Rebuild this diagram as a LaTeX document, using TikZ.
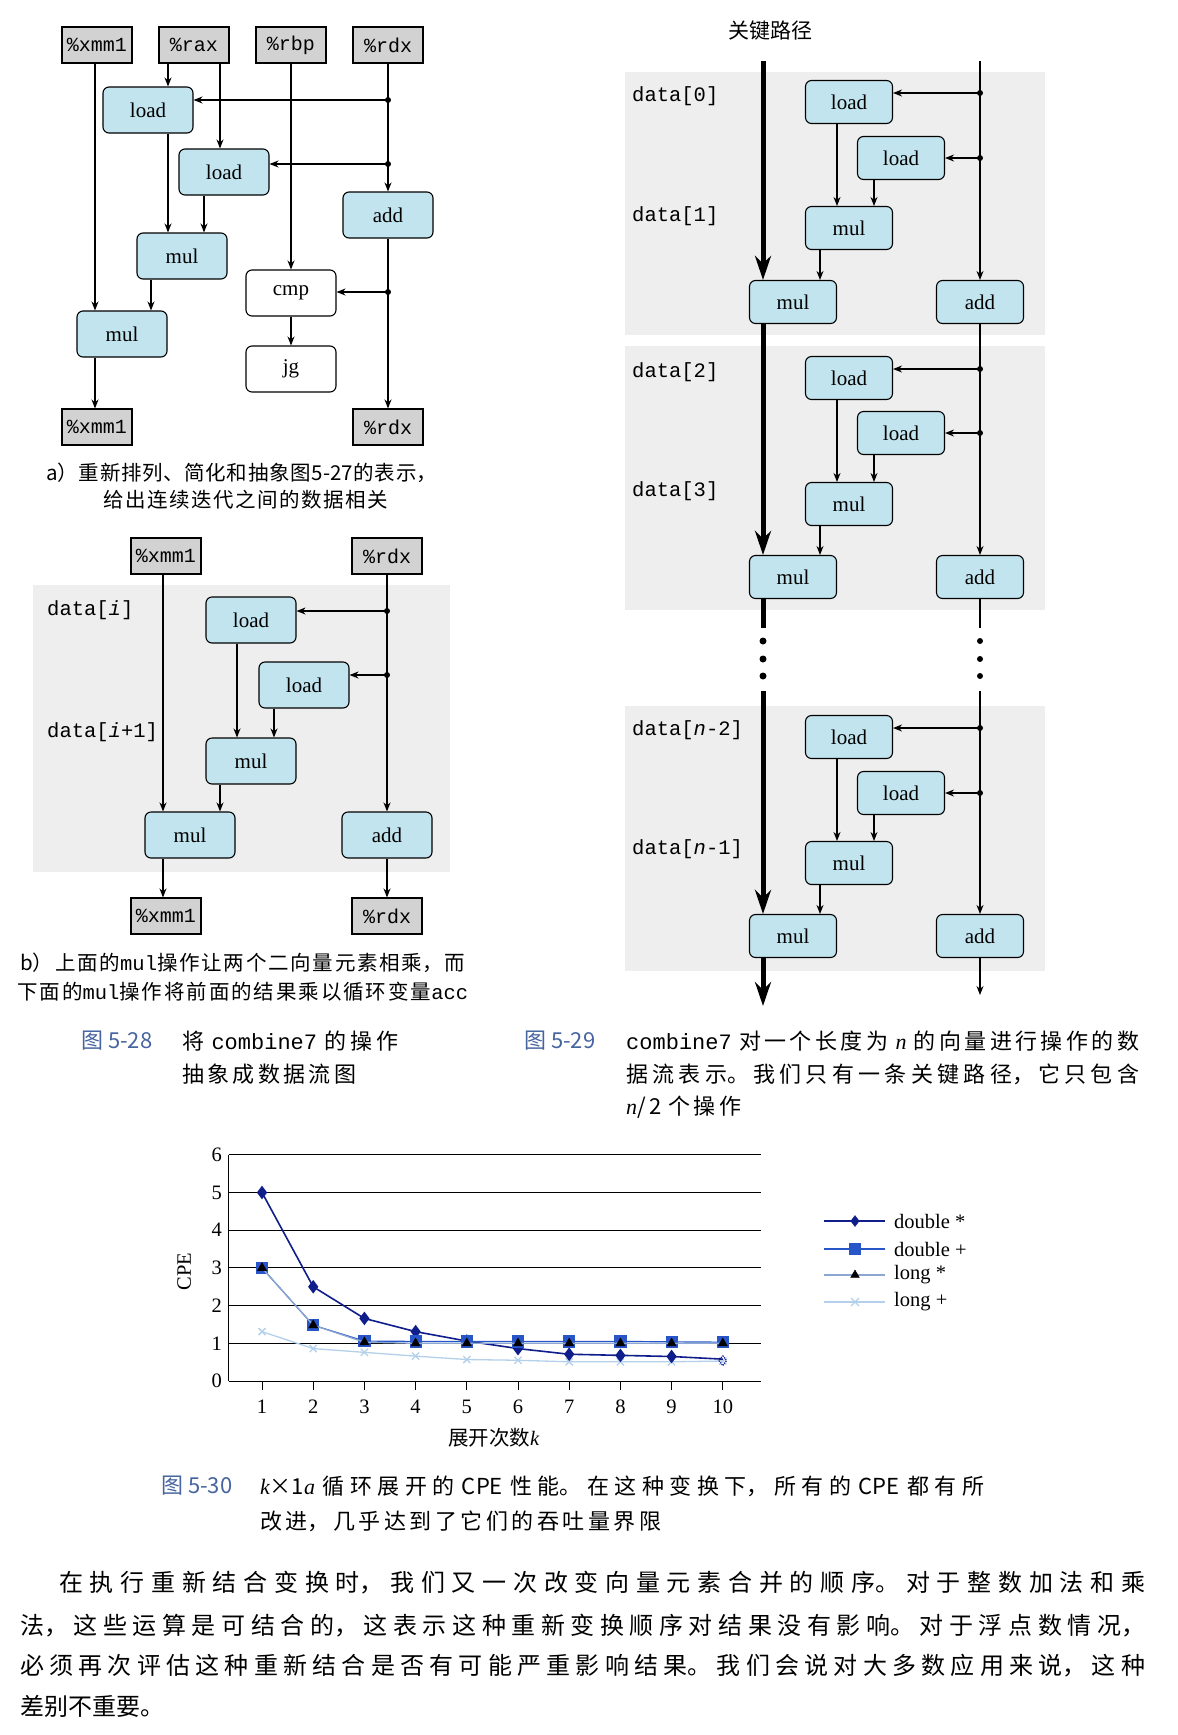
\documentclass[tikz,border=0pt]{standalone}
\usepackage{fontspec}
\setmainfont{Liberation Serif}
\setmonofont{Liberation Mono}
\newfontfamily\cjk{Noto Sans CJK SC}
\usetikzlibrary{arrows.meta,plotmarks}
\XeTeXlinebreaklocale "zh"
\XeTeXlinebreakskip=0pt plus 8pt
\definecolor{opblue}{RGB}{193,228,238}
\definecolor{reggray}{RGB}{210,210,210}
\definecolor{bggray}{RGB}{238,238,238}
\definecolor{figblue}{RGB}{70,100,160}
\definecolor{dsblue}{RGB}{16,30,140}
\definecolor{dpblue}{RGB}{40,85,200}
\definecolor{lsblue}{RGB}{140,168,210}
\definecolor{lpblue}{RGB}{180,208,234}
\newcommand\fillline[1]{\noindent\leftskip=0pt\rightskip=0pt\parfillskip=0pt\relax#1\par}
\newcommand\vn[1]{{\rmfamily\itshape #1}}
\begin{document}
\begin{tikzpicture}[x=1pt,y=-1pt,
    every node/.style={inner sep=0pt},
    reg/.style={draw,line width=1.1pt,fill=reggray,minimum width=70pt,minimum height=36pt,
      font=\ttfamily\fontsize{20}{22}\selectfont},
    op/.style={draw,line width=1.1pt,rounded corners=6pt,fill=opblue,minimum width=90pt,
      minimum height=46pt,font=\fontsize{21}{24}\selectfont},
    opc/.style={op,minimum width=87pt,minimum height=43pt},
    wop/.style={op,fill=white},
    lab/.style={anchor=west,font=\ttfamily\fontsize{20.5}{24}\selectfont},
    flow/.style={-{Stealth[length=9pt,width=7pt]},line width=1.1pt},
    crit/.style={line width=5pt,-{Stealth[length=24pt,width=16pt]}},
    cline/.style={anchor=west,text width=#1},
    subfont/.style={font=\cjk\fontsize{20.5}{24}\selectfont},
    capfont/.style={font=\cjk\fontsize{22}{26}\selectfont},
    bodyfont/.style={font=\cjk\fontsize{24}{28}\selectfont},
    numfont/.style={font=\fontsize{20.5}{24}\selectfont}]
  \useasboundingbox (0,0) rectangle (1178,1735);
  \fill[white] (0,0) rectangle (1178,1735);
  \fill[bggray] (33,585) rectangle (450,872);
  \fill[bggray] (625,72) rectangle (1045,335);
  \fill[bggray] (625,346) rectangle (1045,610);
  \fill[bggray] (625,706) rectangle (1045,971);

  \node[reg] (a-xmm) at (97,45) {\%xmm1};
  \node[reg] (a-rax) at (194,45) {\%rax};
  \node[reg] (a-rbp) at (291,45) {\%rbp};
  \node[reg] (a-rdx) at (388,45) {\%rdx};
  \node[op] (a-load1) at (148,110) {load};
  \node[op] (a-load2) at (224,172) {load};
  \node[op] (a-add) at (388,215) {add};
  \node[op] (a-mul1) at (182,256) {mul};
  \node[wop] (a-cmp) at (291,293) {cmp};
  \node[op] (a-mul2) at (122,334) {mul};
  \node[wop] (a-jg) at (291,369) {jg};
  \node[reg] (a-xmmo) at (97,427) {\%xmm1};
  \node[reg] (a-rdxo) at (388,427) {\%rdx};
  \coordinate (a-j1) at (388,100);
  \coordinate (a-j2) at (388,164);
  \coordinate (a-j3) at (388,292);
  \begin{scope}[flow]
    \draw (95,0 |- a-xmm.south) to (95,0 |- a-mul2.north);
    \draw (168,0 |- a-rax.south) to (168,0 |- a-load1.north);
    \draw (220,0 |- a-rax.south) to (220,0 |- a-load2.north);
    \draw (a-rbp.south) to (a-cmp.north);
    \draw (a-rdx.south) to (a-add.north);
    \draw (a-j1) to (a-j1 -| a-load1.east);
    \draw (a-j2) to (a-j2 -| a-load2.east);
    \draw (a-j3) to (a-j3 -| a-cmp.east);
    \draw (168,0 |- a-load1.south) to (168,0 |- a-mul1.north);
    \draw (204,0 |- a-load2.south) to (204,0 |- a-mul1.north);
    \draw (151,0 |- a-mul1.south) to (151,0 |- a-mul2.north);
    \draw (95,0 |- a-mul2.south) to (95,0 |- a-xmmo.north);
    \draw (a-cmp.south) to (a-jg.north);
    \draw (a-add.south) to (a-rdxo.north);
  \end{scope}
  \fill (a-j1) circle (3pt) (a-j2) circle (3pt) (a-j3) circle (3pt);
  \node[cline=391pt,subfont] (a-cap1) at (46,473) {\fillline{a）重新排列、简化和抽象图5-27的表示，}};
  \node[cline=285pt,subfont] (a-cap2) at (103,500) {\fillline{给出连续迭代之间的数据相关}};

  \node[reg] (b-xmm) at (166,556) {\%xmm1};
  \node[reg] (b-rdx) at (387,556) {\%rdx};
  \node[op] (b-load1) at (251,620) {load};
  \node[op] (b-load2) at (304,685) {load};
  \node[op] (b-mul1) at (251,761) {mul};
  \node[op] (b-mul2) at (190,835) {mul};
  \node[op] (b-add) at (387,835) {add};
  \node[reg] (b-xmmo) at (166,916) {\%xmm1};
  \node[reg] (b-rdxo) at (387,916) {\%rdx};
  \node[lab] (b-di) at (47,610) {data[\textit{i}]};
  \node[lab] (b-di1) at (47,732) {data[\textit{i}+1]};
  \coordinate (b-j1) at (387,611);
  \coordinate (b-j2) at (387,675);
  \begin{scope}[flow]
    \draw (163,0 |- b-xmm.south) to (163,0 |- b-mul2.north);
    \draw (b-rdx.south) to (b-add.north);
    \draw (b-j1) to (b-j1 -| b-load1.east);
    \draw (b-j2) to (b-j2 -| b-load2.east);
    \draw (237,0 |- b-load1.south) to (237,0 |- b-mul1.north);
    \draw (274,0 |- b-load2.south) to (274,0 |- b-mul1.north);
    \draw (220,0 |- b-mul1.south) to (220,0 |- b-mul2.north);
    \draw (163,0 |- b-mul2.south) to (163,0 |- b-xmmo.north);
    \draw (b-add.south) to (b-rdxo.north);
  \end{scope}
  \fill (b-j1) circle (3pt) (b-j2) circle (3pt);
  \node[cline=445pt,subfont] (b-cap1) at (20,963) {\fillline{b）上面的\texttt{mul}操作让两个二向量元素相乘，而}};
  \node[cline=451pt,subfont] (b-cap2) at (17,992) {\fillline{下面的\texttt{mul}操作将前面的结果乘以循环变量\texttt{acc}}};

  \node[font=\cjk\fontsize{21}{24}\selectfont] (c-title) at (770,31) {关键路径};
  \node[lab] (c-d0) at (632,96) {data[0]};
  \node[lab] (c-d1) at (632,216) {data[1]};
  \node[lab] (c-d2) at (632,372) {data[2]};
  \node[lab] (c-d3) at (632,491) {data[3]};
  \node[lab] (c-d4) at (632,730) {data[\textit{n}-2]};
  \node[lab] (c-d5) at (632,849) {data[\textit{n}-1]};
  \node[opc] (c-load1) at (849,102) {load};
  \node[opc] (c-loadb1) at (901,158) {load};
  \node[opc] (c-mul1) at (849,228) {mul};
  \node[opc] (c-mmul1) at (793,302) {mul};
  \node[opc] (c-add1) at (980,302) {add};
  \node[opc] (c-load2) at (849,378) {load};
  \node[opc] (c-loadb2) at (901,433) {load};
  \node[opc] (c-mul2) at (849,504) {mul};
  \node[opc] (c-mmul2) at (793,577) {mul};
  \node[opc] (c-add2) at (980,577) {add};
  \node[opc] (c-load3) at (849,737) {load};
  \node[opc] (c-loadb3) at (901,793) {load};
  \node[opc] (c-mul3) at (849,863) {mul};
  \node[opc] (c-mmul3) at (793,936) {mul};
  \node[opc] (c-add3) at (980,936) {add};
  \coordinate (c-top) at (763,61);
  \coordinate (c-rtop) at (980,61);
  \coordinate (c-brk) at (763,628);
  \coordinate (c-rbrk) at (980,628);
  \coordinate (c-res) at (763,691);
  \coordinate (c-rres) at (980,691);
  \coordinate (c-end) at (763,1006);
  \coordinate (c-rend) at (980,995);
  \coordinate (c-j1a) at (980,93);
  \coordinate (c-j1b) at (980,158);
  \coordinate (c-j2a) at (980,369);
  \coordinate (c-j2b) at (980,433);
  \coordinate (c-j3a) at (980,728);
  \coordinate (c-j3b) at (980,793);
  \draw[crit] (c-top) to (c-top |- c-mmul1.north);
  \draw[crit] (c-top |- c-mmul1.south) to (c-top |- c-mmul2.north);
  \draw[line width=5pt] (c-top |- c-mmul2.south) to (c-brk);
  \draw[crit] (c-res) to (c-res |- c-mmul3.north);
  \draw[crit] (c-top |- c-mmul3.south) to (c-end);
  \begin{scope}[flow]
    \draw (c-rtop) to (c-add1.north);
    \draw (c-add1.south) to (c-add2.north);
    \draw[-] (c-add2.south) to (c-rbrk);
    \draw (c-rres) to (c-add3.north);
    \draw (c-add3.south) to (c-rend);
    \draw (c-j1a) to (c-j1a -| c-load1.east);
    \draw (c-j1b) to (c-j1b -| c-loadb1.east);
    \draw (c-j2a) to (c-j2a -| c-load2.east);
    \draw (c-j2b) to (c-j2b -| c-loadb2.east);
    \draw (c-j3a) to (c-j3a -| c-load3.east);
    \draw (c-j3b) to (c-j3b -| c-loadb3.east);
    \draw (837,0 |- c-load1.south) to (837,0 |- c-mul1.north);
    \draw (874,0 |- c-loadb1.south) to (874,0 |- c-mul1.north);
    \draw (820,0 |- c-mul1.south) to (820,0 |- c-mmul1.north);
    \draw (837,0 |- c-load2.south) to (837,0 |- c-mul2.north);
    \draw (874,0 |- c-loadb2.south) to (874,0 |- c-mul2.north);
    \draw (820,0 |- c-mul2.south) to (820,0 |- c-mmul2.north);
    \draw (837,0 |- c-load3.south) to (837,0 |- c-mul3.north);
    \draw (874,0 |- c-loadb3.south) to (874,0 |- c-mul3.north);
    \draw (820,0 |- c-mul3.south) to (820,0 |- c-mmul3.north);
  \end{scope}
  \fill (c-j1a) circle (3pt) (c-j1b) circle (3pt) (c-j2a) circle (3pt)
    (c-j2b) circle (3pt) (c-j3a) circle (3pt) (c-j3b) circle (3pt);
  \fill (763,641) circle (3.5pt) (763,659) circle (3.5pt) (763,676) circle (3.5pt);
  \fill (980,641) circle (3pt) (980,659) circle (3pt) (980,676) circle (3pt);

  \node[anchor=west,capfont,text=figblue] (f28) at (81,1041) {图 5-28};
  \node[cline=216pt,capfont] (f28a) at (182,1041) {\fillline{将 \texttt{combine7} 的操作}};
  \node[cline=174pt,capfont] (f28b) at (182,1074) {\fillline{抽象成数据流图}};
  \node[anchor=west,capfont,text=figblue] (f29) at (524,1041) {图 5-29};
  \node[cline=513pt,capfont] (f29a) at (626,1041) {\fillline{\texttt{combine7} 对一个长度为 \vn{n} 的向量进行操作的数}};
  \node[cline=513pt,capfont] (f29b) at (626,1074) {\fillline{据流表示。我们只有一条关键路径，它只包含}};
  \node[cline=115pt,capfont] (f29c) at (626,1107) {\fillline{\vn{n}/2 个操作}};

  \begin{scope}[shift={(210.8,1381)},x=51.2pt,y=37.7pt,numfont]
    \foreach \v in {0,...,6} {
      \draw[line width=1pt] (0.355,\v) -- (10.74,\v);
      \node[anchor=east] (yt\v) at (0.22,\v) {\v};
    }
    \draw[line width=1pt] (0.355,0) -- (0.355,6);
    \foreach \k in {1,...,10} {
      \draw[line width=1pt] (\k,0) -- (\k,-0.25);
      \node (xt\k) at (\k,-0.69) {\k};
    }
    \node[rotate=90] (cpe) at (-0.52,2.9) {CPE};
    \node (xlab) at (5.53,-1.51) {{\cjk 展开次数}\textit{k}};
    \draw[lpblue,line width=1.3pt] plot[mark=x,mark size=5pt] coordinates {(1,1.31) (2,0.86)
      (3,0.76) (4,0.66) (5,0.57) (6,0.55) (7,0.51) (8,0.51) (9,0.51) (10,0.53)};
    \draw[dsblue,line width=1.6pt] plot[mark=diamond*,mark size=5.5pt] coordinates {(1,5)
      (2,2.5) (3,1.66) (4,1.31) (5,1.06) (6,0.86) (7,0.71) (8,0.68) (9,0.65)} -- (10,0.58);
    \draw[dsblue,fill=white,line width=1.2pt] plot[mark=diamond,mark size=5pt,
      mark options={densely dotted}] coordinates {(10,0.54)};
    \draw[dpblue,line width=1.2pt] plot[mark=square*,mark size=5.5pt] coordinates {(1,3)
      (2,1.48) (3,1.06) (4,1.05) (5,1.05) (6,1.05) (7,1.05) (8,1.05) (9,1.04) (10,1.03)};
    \draw[lsblue,line width=1.3pt] plot[mark=triangle*,mark size=4.5pt,mark options={black}]
      coordinates {(1,3) (2,1.48) (3,1.03) (4,1.0) (5,1.0) (6,1.0) (7,1.0) (8,1.0) (9,1.0) (10,1.0)};
  \end{scope}

  \draw[dsblue,line width=1.6pt] (824,1221) -- (885,1221);
  \draw[dsblue] plot[mark=diamond*,mark size=5.5pt] coordinates {(855,1221)};
  \draw[dpblue,line width=1.4pt] (824,1249) -- (885,1249);
  \draw[dpblue] plot[mark=square*,mark size=5.5pt] coordinates {(855,1249)};
  \draw[lsblue,line width=1.3pt] (824,1275) -- (885,1275);
  \draw[black] plot[mark=triangle*,mark size=5pt] coordinates {(855,1275)};
  \draw[lpblue,line width=1.3pt] (824,1302) -- (885,1302);
  \draw[lpblue,line width=1.3pt] plot[mark=x,mark size=5.5pt] coordinates {(855,1302)};
  \node[anchor=west,numfont] (leg-ds) at (894,1221) {double *};
  \node[anchor=west,numfont] (leg-dp) at (894,1249) {double +};
  \node[anchor=west,numfont] (leg-ls) at (894,1275) {long *};
  \node[anchor=west,numfont] (leg-lp) at (894,1302) {long +};

  \node[anchor=west,capfont,text=figblue] (f30) at (161,1486) {图 5-30};
  \node[cline=724pt,capfont] (f30a) at (260,1486) {\fillline{\vn{k}×1\vn{a} 循环展开的 CPE 性能。在这种变换下，所有的 CPE 都有所}};
  \node[cline=401pt,capfont] (f30b) at (260,1521) {\fillline{改进，几乎达到了它们的吞吐量界限}};

  \node[cline=1086pt,bodyfont] (body1) at (59,1583) {\fillline{在执行重新结合变换时，我们又一次改变向量元素合并的顺序。对于整数加法和乘}};
  \node[cline=1125pt,bodyfont] (body2) at (20,1626) {\fillline{法，这些运算是可结合的，这表示这种重新变换顺序对结果没有影响。对于浮点数情况，}};
  \node[cline=1125pt,bodyfont] (body3) at (20,1666) {\fillline{必须再次评估这种重新结合是否有可能严重影响结果。我们会说对大多数应用来说，这种}};
  \node[anchor=west,bodyfont] (body4) at (20,1706) {差别不重要。};
\end{tikzpicture}
\end{document}
